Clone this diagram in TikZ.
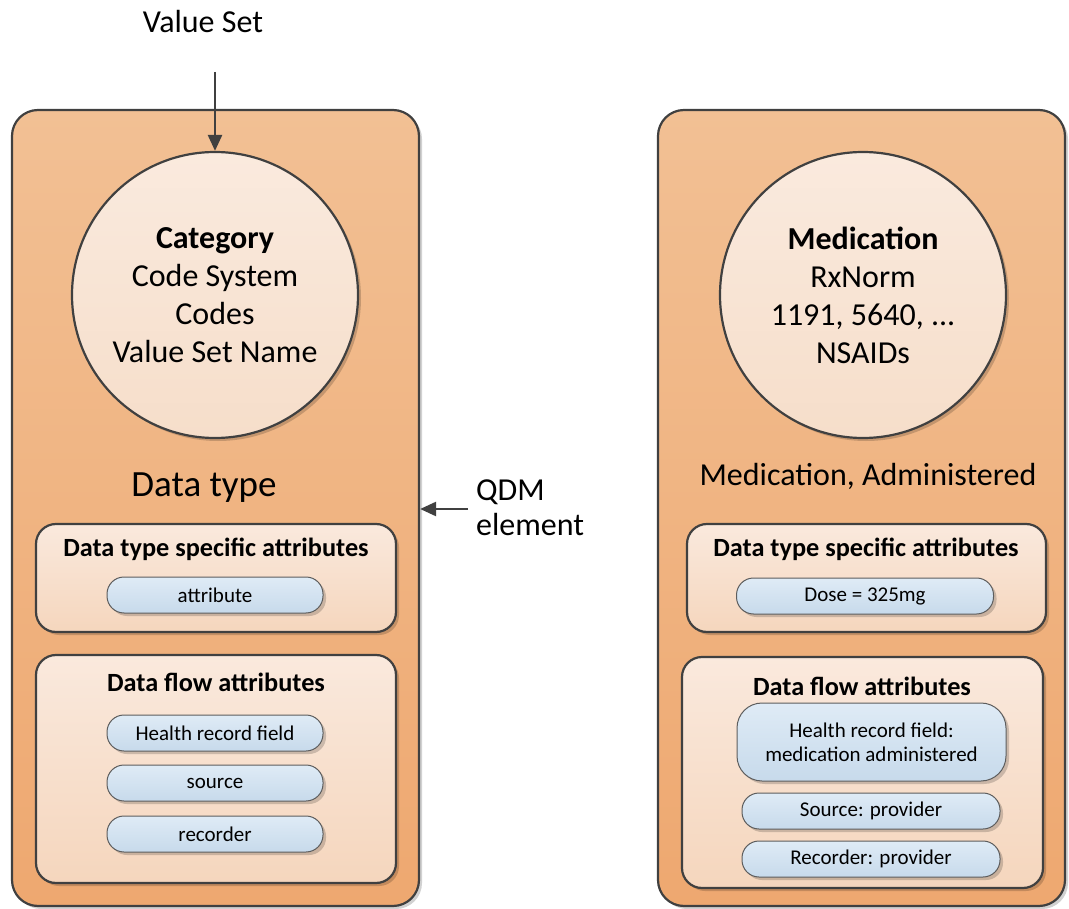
\documentclass[tikz,border=0pt]{standalone}
\usepackage{fontspec}
\setmainfont{Carlito}
\usetikzlibrary{shadows,arrows.meta}
\definecolor{edge}{HTML}{404040}
\definecolor{outtop}{RGB}{242,192,148}
\definecolor{outbot}{RGB}{238,168,112}
\definecolor{intop}{RGB}{250,233,221}
\definecolor{inbot}{RGB}{245,214,189}
\definecolor{ctop}{RGB}{250,234,222}
\definecolor{cbot}{RGB}{246,222,202}
\definecolor{pilltop}{RGB}{223,235,246}
\definecolor{pillbot}{RGB}{199,218,235}
\tikzset{
  shad/.style={drop shadow={shadow xshift=3pt,shadow yshift=-3pt,fill=black,opacity=0.18}},
  outerbox/.style={draw=edge,line width=2.2pt,rounded corners=26pt,top color=outtop,bottom color=outbot,shad,minimum width=407pt,minimum height=796pt,inner sep=0pt},
  circ/.style={circle,draw=edge,line width=2.2pt,top color=ctop,bottom color=cbot,shad,minimum size=286pt,inner sep=0pt,align=center,font=\fontsize{32}{38}\selectfont},
  innerbox/.style={draw=edge,line width=2.2pt,rounded corners=20pt,top color=intop,bottom color=inbot,shad,inner sep=0pt},
  pill/.style={draw=edge!85,line width=1pt,rounded corners=17pt,top color=pilltop,bottom color=pillbot,shad,inner sep=0pt,align=center,font=\fontsize{21}{24}\selectfont},
  ttl/.style={font=\bfseries\fontsize{26.3}{28}\selectfont,inner sep=0pt},
  big/.style={font=\fontsize{32}{34}\selectfont,inner sep=0pt},
  arr/.style={draw=edge,line width=2.5pt,-{Triangle[length=16pt,width=14pt]}}
}
\begin{document}
\begin{tikzpicture}[x=1pt,y=-1pt]
\useasboundingbox (0,0) rectangle (1069,909);
% left element
\node[outerbox] (L) at (215.5,508) {};
\node[circ] (C1) at (215,295) {\textbf{Category}\\Code System\\Codes\\Value Set Name};
\node[big,font=\fontsize{37}{40}\selectfont] (DT) at (204,488) {Data type};
\node[innerbox,minimum width=360pt,minimum height=108pt] (LB1) at (216,578) {};
\node[ttl] (LB1t) at (216,549) {Data type specific attributes};
\node[pill,minimum width=216pt,minimum height=36pt] (LP1) at (215,595) {attribute};
\node[innerbox,minimum width=360pt,minimum height=228pt] (LB2) at (216,769) {};
\node[ttl] (LB2t) at (216,682) {Data flow attributes};
\node[pill,minimum width=216pt,minimum height=36pt] (LP2) at (215,733) {Health record field};
\node[pill,minimum width=216pt,minimum height=36pt] (LP3) at (215,783) {source};
\node[pill,minimum width=216pt,minimum height=36pt] (LP4) at (215,834) {recorder};
% value set
\node[big] (VS) at (203,22) {Value Set};
\coordinate (vsEnd) at (215,72);
\draw[arr] (vsEnd) -- (C1.north);
% QDM element
\node[big,anchor=west,align=left,font=\fontsize{32}{35}\selectfont] (QDM) at (476,508) {QDM\\element};
\coordinate (qdmEnd) at (468,509);
\draw[arr] (qdmEnd) -- (L.east |- qdmEnd);
% right element
\node[outerbox] (R) at (861.5,508) {};
\node[circ] (C2) at (863,295) {\textbf{Medication}\\RxNorm\\1191, 5640, ...\\NSAIDs};
\node[big] (MA) at (868,476) {Medication, Administered};
\node[innerbox,minimum width=359pt,minimum height=108pt] (RB1) at (866.5,578) {};
\node[ttl] (RB1t) at (866,549) {Data type specific attributes};
\node[pill,minimum width=257pt,minimum height=36pt] (RP1) at (865,596) {Dose = 325mg};
\node[innerbox,minimum width=361pt,minimum height=231pt] (RB2) at (862.5,772.5) {};
\node[ttl] (RB2t) at (862,686) {Data flow attributes};
\node[pill,rounded corners=25pt,minimum width=269pt,minimum height=78pt] (RP2) at (871.5,742) {Health record field:\\medication administered};
\node[pill,minimum width=258pt,minimum height=36pt] (RP3) at (871,811) {Source: provider};
\node[pill,minimum width=258pt,minimum height=36pt] (RP4) at (871,859) {Recorder: provider};
\end{tikzpicture}
\end{document}
